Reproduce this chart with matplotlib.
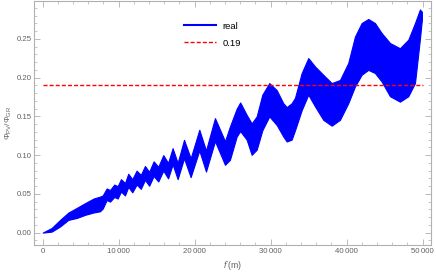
import matplotlib
matplotlib.use('Agg')
import matplotlib.pyplot as plt
from matplotlib.ticker import MultipleLocator, FuncFormatter

# envelope (upper / lower edge) of the fast oscillating curve
f_vals = [0, 1180, 2300, 3370, 4500, 5570, 6700, 7540, 7900,
          8420, 8860, 9420, 9870, 10300, 10830, 11260, 11790, 12360, 12910,
          13460, 14010, 14600, 15210, 15870, 16500, 17100, 17760, 18600, 19470,
          20610, 21490, 22670, 23990, 24640, 25530, 25990, 26840, 27500, 28160,
          28900, 29820, 30790, 31660, 32110, 32760, 33200, 34080, 34950, 35830,
          36920, 38030, 39120, 40210, 41090, 41970, 42840, 43720, 44600, 45700,
          47010, 48110, 48990, 49640, 49900]
upper = [0.000, 0.0060, 0.0165, 0.0258, 0.032, 0.038, 0.044, 0.0465, 0.048,
         0.057, 0.055, 0.062, 0.060, 0.069, 0.064, 0.076, 0.069, 0.080, 0.0745,
         0.086, 0.0785, 0.092, 0.085, 0.100, 0.090, 0.109, 0.090, 0.1198, 0.096,
         0.1327, 0.106, 0.1478, 0.118, 0.137, 0.160, 0.168, 0.152, 0.141, 0.150,
         0.178, 0.193, 0.184, 0.167, 0.162, 0.167, 0.174, 0.206, 0.2253, 0.2145,
         0.2037, 0.193, 0.197, 0.219, 0.253, 0.2705, 0.2757, 0.2705, 0.2576, 0.2447,
         0.238, 0.249, 0.2705, 0.288, 0.285]
lower = [0.000, 0.0013, 0.0080, 0.0164, 0.019, 0.0229, 0.026, 0.0275, 0.031,
         0.042, 0.040, 0.046, 0.044, 0.053, 0.048, 0.059, 0.052, 0.062, 0.0565,
         0.068, 0.0605, 0.073, 0.066, 0.080, 0.070, 0.088, 0.069, 0.096, 0.0716,
         0.106, 0.0788, 0.118, 0.0875, 0.094, 0.124, 0.131, 0.120, 0.1004, 0.107,
         0.132, 0.150, 0.139, 0.124, 0.1176, 0.120, 0.132, 0.158, 0.178, 0.163,
         0.1456, 0.138, 0.1456, 0.167, 0.1886, 0.2037, 0.210, 0.206, 0.195, 0.176,
         0.169, 0.176, 0.193, 0.250, 0.275]
level = 0.19
f_range = [0, 50000]

plt.rcParams['font.family'] = ['Liberation Sans', 'DejaVu Sans']
plt.rcParams['mathtext.fontset'] = 'custom'
plt.rcParams['mathtext.rm'] = 'Liberation Sans'
plt.rcParams['mathtext.it'] = 'Liberation Sans:italic'

fig = plt.figure(figsize=(4.36, 2.75), dpi=100)
ax = fig.add_axes([0.0787, 0.109, 0.909, 0.889])

ax.fill_between(f_vals, lower, upper, color='#0000ff', lw=0.8, edgecolor='#0000ff')
ax.plot([], [], color='#0000ff', lw=1.5, label='real')
ax.plot(f_range, [level, level], color='#ff0000', lw=1.0, ls=(0, (2.9, 1.5)), label='0.19')

ax.set_xlim(-1100, 51050)
ax.set_ylim(-0.016, 0.2995)

ax.xaxis.set_major_locator(MultipleLocator(10000))
ax.xaxis.set_minor_locator(MultipleLocator(2000))
ax.yaxis.set_major_locator(MultipleLocator(0.05))
ax.yaxis.set_minor_locator(MultipleLocator(0.01))
ax.xaxis.set_major_formatter(FuncFormatter(
    lambda v, p: '0' if v == 0 else f'{int(v)//1000}\u2009{int(v)%1000:03d}'))
ax.yaxis.set_major_formatter(FuncFormatter(lambda v, p: f'{v:.2f}'))

for s in ax.spines.values():
    s.set_color('#b0b0b0')
    s.set_linewidth(0.8)
ax.tick_params(which='both', direction='in', top=True, right=True,
               color='#b0b0b0', labelcolor='#606060', labelsize=5.6, pad=2)
ax.tick_params(which='major', length=4, width=0.6)
ax.tick_params(which='minor', length=2, width=0.5)

ax.set_ylabel(r'$\Phi_{\mathrm{PV}}/\Phi_{\mathrm{GR}}$', color='#606060', fontsize=6, labelpad=2)
ax.set_xlabel(r"$f'$(m)", color='#606060', fontsize=6.2, labelpad=3)

ax.legend(loc='upper left', bbox_to_anchor=(0.378, 0.914), frameon=False,
          borderpad=0, borderaxespad=0, fontsize=6.8, handlelength=3.4,
          handletextpad=0.7, labelspacing=0.85)

fig.savefig('out.png', dpi=100)
